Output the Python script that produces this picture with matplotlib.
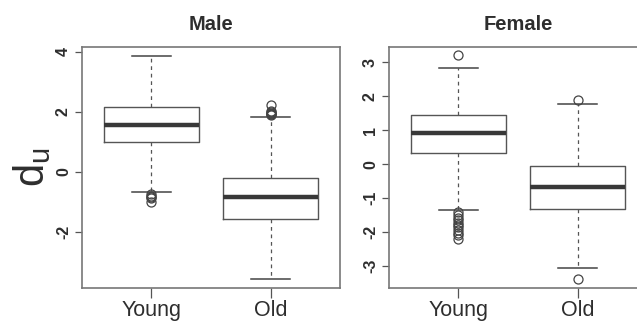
import matplotlib
matplotlib.use("Agg")
import matplotlib.pyplot as plt

plt.rcParams['font.family'] = ['Liberation Sans', 'DejaVu Sans']
plt.rcParams['mathtext.fontset'] = 'custom'
plt.rcParams['mathtext.rm'] = 'Liberation Sans'
plt.rcParams['mathtext.it'] = 'Liberation Sans'

groups = ["Young", "Old"]
panels = ["Male", "Female"]

# Five-number summaries per panel: [Young, Old]
male_whislo = [-0.69, -3.59]
male_q1 = [1.00, -1.59]
male_med = [1.56, -0.83]
male_q3 = [2.17, -0.22]
male_whishi = [3.87, 1.81]
male_fliers = [[-0.76, -0.80, -0.84, -0.88, -1.00],
               [1.88, 1.91, 1.94, 1.97, 2.00, 2.04, 2.22]]

female_whislo = [-1.36, -3.05]
female_q1 = [0.32, -1.32]
female_med = [0.93, -0.66]
female_q3 = [1.46, -0.07]
female_whishi = [2.82, 1.77]
female_fliers = [[3.21, -1.40, -1.50, -1.58, -1.66, -1.73, -1.80, -1.86, -1.93, -2.02, -2.10, -2.20],
                 [1.90, -3.39]]

male_yticks = [-2, 0, 2, 4]
female_yticks = [-3, -2, -1, 0, 1, 2, 3]
male_ylim = (-3.88, 4.16)
female_ylim = (-3.65, 3.45)

W, H = 637, 322
fig = plt.figure(figsize=(W / 100, H / 100), dpi=100)

txt = '#2e2e2e'
edge = '#555555'

def make_stats(lo, q1, med, q3, hi, fl):
    out = []
    for i in range(len(groups)):
        out.append(dict(whislo=lo[i], q1=q1[i], med=med[i], q3=q3[i],
                        whishi=hi[i], fliers=fl[i], label=groups[i]))
    return out

def draw(ax, stats, yticks, ylim, title):
    ax.bxp(stats, positions=[1, 2], widths=0.8, capwidths=0.33,
           showfliers=True, patch_artist=False,
           boxprops=dict(color=edge, linewidth=1.0),
           medianprops=dict(color='#383838', linewidth=3.2, solid_capstyle='butt'),
           whiskerprops=dict(color=edge, linewidth=0.9, linestyle=(0, (3, 3))),
           capprops=dict(color='#444444', linewidth=1.1),
           flierprops=dict(marker='o', markerfacecolor='none', markeredgecolor='#444444',
                           markersize=6.5, markeredgewidth=0.9))
    ax.set_xlim(0.42, 2.58)
    ax.set_ylim(*ylim)
    ax.set_yticks(yticks)
    ax.set_yticklabels([str(t) for t in yticks], rotation=90, va='center',
                       fontsize=11.5, color=txt, fontweight='bold')
    ax.set_xticks([1, 2])
    ax.set_xticklabels(groups, fontsize=15.5, color=txt)
    ax.tick_params(axis='y', direction='out', length=5, width=0.9, color='#555555', pad=3)
    ax.tick_params(axis='x', direction='out', length=7, width=0.9, color='#555555', pad=1.5)
    for s in ax.spines.values():
        s.set_color('#777777')
        s.set_linewidth(1.2)
    ax.set_title(title, fontsize=14.5, fontweight='bold', color=txt, pad=12)

ax1 = fig.add_axes([82 / W, 34 / H, 258 / W, 241 / H])
draw(ax1, make_stats(male_whislo, male_q1, male_med, male_q3, male_whishi, male_fliers),
     male_yticks, male_ylim, panels[0])
ax1.set_ylabel(r'$\mathrm{d}_{\mathrm{u}}$', fontsize=30, color=txt, labelpad=2)

ax2 = fig.add_axes([389 / W, 34 / H, 258 / W, 241 / H])
draw(ax2, make_stats(female_whislo, female_q1, female_med, female_q3, female_whishi, female_fliers),
     female_yticks, female_ylim, panels[1])

fig.savefig('out.png', dpi=100)
